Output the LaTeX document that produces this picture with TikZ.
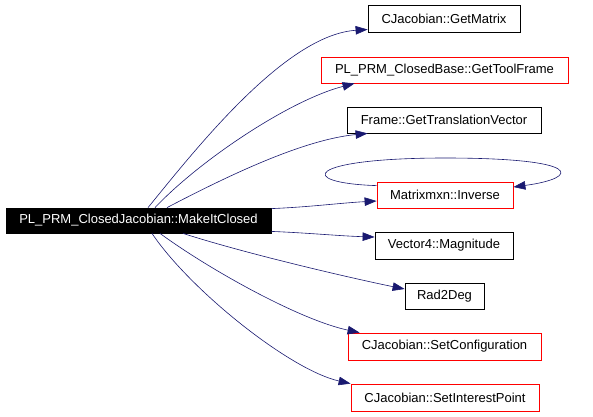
\documentclass[tikz,border=0pt]{standalone}
\usepackage{fontspec}
\setmainfont{Liberation Sans}
\usetikzlibrary{arrows.meta}
\definecolor{edgeblue}{HTML}{191970}
\begin{document}
\begin{tikzpicture}[x=1pt,y=-1pt,
  fn/.style={draw=black,line width=0.8pt,fill=white,inner sep=0pt,font=\fontsize{13}{15}\selectfont},
  red/.style={draw=red},
  call/.style={draw=edgeblue,line width=0.6pt,-{Triangle[length=12pt,width=8.5pt]}},
]
\useasboundingbox (0,0) rectangle (593,416);
\node[fn,fill=black,text=white,minimum width=265pt,minimum height=25pt] (main) at (138.5,220.5) {PL\_PRM\_ClosedJacobian::MakeItClosed};
\node[fn,minimum width=152pt,minimum height=27pt] (gm) at (444,18.5) {CJacobian::GetMatrix};
\node[fn,red,minimum width=247pt,minimum height=26pt] (tf) at (444.5,70) {PL\_PRM\_ClosedBase::GetToolFrame};
\node[fn,minimum width=194pt,minimum height=26pt] (tv) at (444,120) {Frame::GetTranslationVector};
\node[fn,red,minimum width=136pt,minimum height=26pt] (inv) at (445,195) {Matrixmxn::Inverse};
\node[fn,minimum width=138pt,minimum height=27pt] (mag) at (444,245.5) {Vector4::Magnitude};
\node[fn,minimum width=79pt,minimum height=26pt] (rd) at (444.5,296) {Rad2Deg};
\node[fn,red,minimum width=193pt,minimum height=27pt] (sc) at (444.5,346.5) {CJacobian::SetConfiguration};
\node[fn,red,minimum width=188pt,minimum height=27pt] (sip) at (445,397.5) {CJacobian::SetInterestPoint};

\draw[call] ([xshift=9.5pt]main.north) .. controls (195,150) and (285,35) .. ([yshift=-11pt]gm.west);
\draw[call] ([xshift=16.5pt]main.north) .. controls (200,160) and (290,100) .. ([xshift=34pt]tf.south west);
\draw[call] ([xshift=28.5pt]main.north) .. controls (220,180) and (300,140) .. ([xshift=21pt]tv.south west);
\draw[call] ([yshift=-1pt]main.north east) .. controls (310,207) and (340,203) .. ([yshift=-6pt]inv.west);
\draw[call] ([yshift=2pt]main.south east) .. controls (310,233) and (340,236) .. ([yshift=8.5pt]mag.west);
\draw[call] ([xshift=44.5pt]main.south) .. controls (250,255) and (360,280) .. ([yshift=7pt]rd.west);
\draw[call] ([xshift=21.5pt]main.south) .. controls (210,270) and (300,320) .. ([xshift=12pt]sc.north west);
\draw[call] ([xshift=13.5pt]main.south) .. controls (190,290) and (290,370) .. (sip.north west);
\draw[call] ([yshift=-4pt]inv.north west) .. controls (295,183) and (305,158) .. (445,158) .. controls (585,158) and (580,178) .. ([yshift=8pt]inv.east);
\end{tikzpicture}
\end{document}
